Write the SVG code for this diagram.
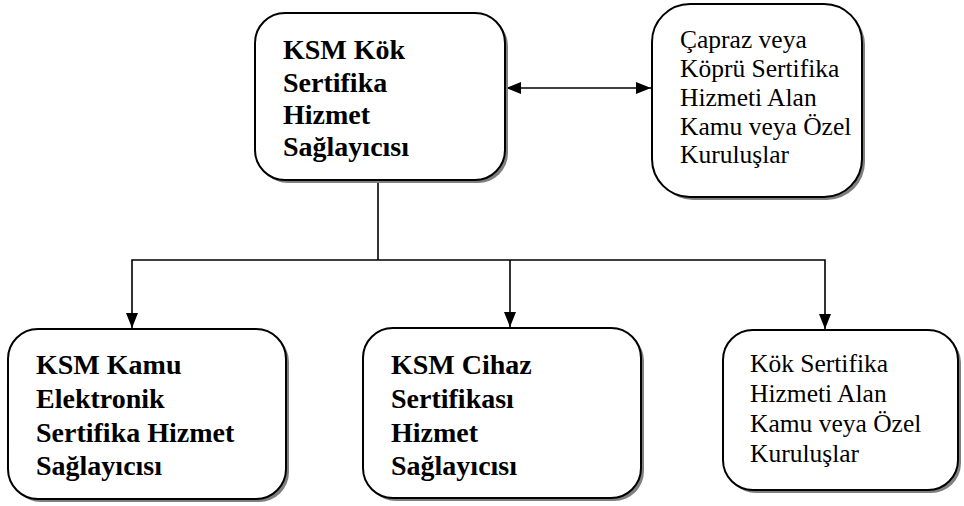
<svg xmlns="http://www.w3.org/2000/svg" width="964" height="506" viewBox="0 0 964 506">
<defs>
<marker id="ah" viewBox="0 0 15 12" refX="15" refY="6" markerWidth="15" markerHeight="12" markerUnits="userSpaceOnUse" orient="auto-start-reverse">
<path d="M0,0 L15,6 L0,12 Z" fill="#000"/>
</marker>
</defs>
<style>
.shadow{fill:#7f7f7f;stroke:none}
.box{fill:#fff;stroke:#000;stroke-width:2}
.b{font-family:'Liberation Serif',serif;font-weight:bold;font-size:28px;fill:#000}
.r{font-family:'Liberation Serif',serif;font-size:25.5px;fill:#000}
.c{fill:none;stroke:#000;stroke-width:1.6}
</style>
<rect width="964" height="506" fill="#fff"/>
<g id="connectors">
<line class="c" x1="506" y1="88" x2="651" y2="88" marker-start="url(#ah)" marker-end="url(#ah)"/>
<polyline class="c" points="378,181 378,260"/>
<polyline class="c" points="132,328 132,260 825,260 825,329" marker-start="url(#ah)" marker-end="url(#ah)"/>
<line class="c" x1="510" y1="260" x2="510" y2="327" marker-end="url(#ah)"/>
</g>
<g id="root">
<rect class="shadow" x="258" y="16" width="250" height="167" rx="30"/>
<rect class="box" x="255" y="13" width="250" height="167" rx="30"/>
<text class="b" font-family="Liberation Serif, serif"><tspan x="283" y="59">KSM Kök</tspan><tspan x="283" y="92">Sertifika</tspan><tspan x="283" y="124">Hizmet</tspan><tspan x="283" y="156">Sağlayıcısı</tspan></text>
</g>
<g id="cross">
<rect class="shadow" x="655" y="7" width="210" height="193" rx="38"/>
<rect class="box" x="652" y="4" width="210" height="193" rx="38"/>
<text class="r" font-family="Liberation Serif, serif"><tspan x="680" y="48">Çapraz veya</tspan><tspan x="680" y="77">Köprü Sertifika</tspan><tspan x="680" y="106">Hizmeti Alan</tspan><tspan x="680" y="135">Kamu veya Özel</tspan><tspan x="680" y="163">Kuruluşlar</tspan></text>
</g>
<g id="public">
<rect class="shadow" x="11" y="332" width="278" height="170" rx="30"/>
<rect class="box" x="8" y="329" width="278" height="170" rx="30"/>
<text class="b" font-family="Liberation Serif, serif"><tspan x="36" y="374">KSM Kamu</tspan><tspan x="36" y="408">Elektronik</tspan><tspan x="36" y="442">Sertifika Hizmet</tspan><tspan x="36" y="475">Sağlayıcısı</tspan></text>
</g>
<g id="device">
<rect class="shadow" x="366" y="331" width="278" height="170" rx="30"/>
<rect class="box" x="363" y="328" width="278" height="170" rx="30"/>
<text class="b" font-family="Liberation Serif, serif"><tspan x="391" y="374">KSM Cihaz</tspan><tspan x="391" y="408">Sertifikası</tspan><tspan x="391" y="442">Hizmet</tspan><tspan x="391" y="475">Sağlayıcısı</tspan></text>
</g>
<g id="rootusers">
<rect class="shadow" x="726" y="333" width="235" height="160" rx="30"/>
<rect class="box" x="723" y="330" width="235" height="160" rx="30"/>
<text class="r" font-family="Liberation Serif, serif"><tspan x="750" y="372">Kök Sertifika</tspan><tspan x="750" y="402">Hizmeti Alan</tspan><tspan x="750" y="432">Kamu veya Özel</tspan><tspan x="750" y="462">Kuruluşlar</tspan></text>
</g>
</svg>
